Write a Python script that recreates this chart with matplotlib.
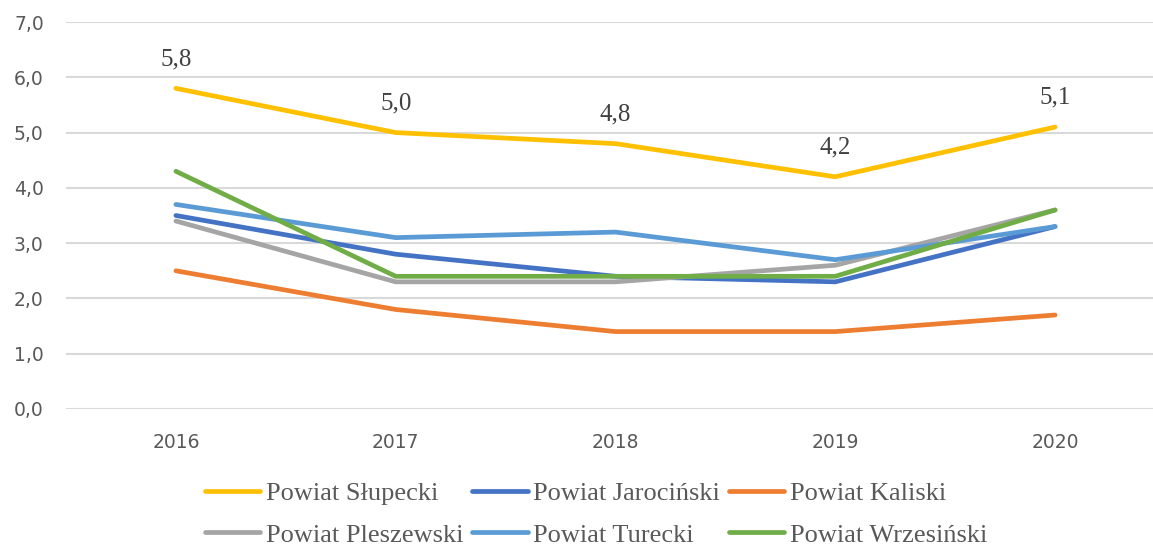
import matplotlib.pyplot as plt
from matplotlib.ticker import FuncFormatter

# dane
years = ['2016', '2017', '2018', '2019', '2020']
slupecki = [5.8, 5.0, 4.8, 4.2, 5.1]
jarocinski = [3.5, 2.8, 2.4, 2.3, 3.3]
kaliski = [2.5, 1.8, 1.4, 1.4, 1.7]
pleszewski = [3.4, 2.3, 2.3, 2.6, 3.6]
turecki = [3.7, 3.1, 3.2, 2.7, 3.3]
wrzesinski = [4.3, 2.4, 2.4, 2.4, 3.6]

series = [
    ('Powiat Słupecki', slupecki, '#FFC000'),
    ('Powiat Jarociński', jarocinski, '#4472C4'),
    ('Powiat Kaliski', kaliski, '#ED7D31'),
    ('Powiat Pleszewski', pleszewski, '#A5A5A5'),
    ('Powiat Turecki', turecki, '#5B9BD5'),
    ('Powiat Wrzesiński', wrzesinski, '#70AD47'),
]

fig = plt.figure(figsize=(11.53, 5.47), dpi=100)
ax = fig.add_axes([66 / 1153, 138 / 547, 1099 / 1153, 387 / 547])

x = list(range(len(years)))
lines = []
for label, vals, color in series:
    ln, = ax.plot(x, vals, color=color, linewidth=3.4, label=label,
                  solid_capstyle='round', solid_joinstyle='round')
    lines.append(ln)

# etykiety danych dla Słupeckiego
for xi, v in zip(x, slupecki):
    ax.annotate(f'{v:.1f}'.replace('.', ','), (xi, v), xytext=(0, 21),
                textcoords='offset points', ha='center', va='center',
                fontsize=18, family='Liberation Serif', color='#404040')

ax.set_xlim(-0.5, len(years) - 0.5)
ax.set_ylim(0, 7)
ax.set_yticks(range(0, 8))
ax.yaxis.set_major_formatter(FuncFormatter(lambda v, p: f'{v:.1f}'.replace('.', ',')))
ax.set_xticks(x)
ax.set_xticklabels(years)
ax.tick_params(axis='both', length=0, labelsize=13.5, colors='#595959')
ax.tick_params(axis='x', pad=17)
ax.tick_params(axis='y', pad=16)
ax.grid(axis='y', color='#D9D9D9', linewidth=1.5)
ax.set_axisbelow(True)
for s in ax.spines.values():
    s.set_visible(False)

# kolejnosc wierszami (legenda wypelnia kolumnami)
order = [0, 3, 1, 4, 2, 5]
leg = fig.legend([lines[i] for i in order], [series[i][0] for i in order],
                 loc='center', bbox_to_anchor=(596 / 1153, 33 / 547), ncol=3,
                 frameon=False, handlelength=2.1, handletextpad=0.2,
                 columnspacing=0.35, labelspacing=0.7,
                 prop={'family': 'Liberation Serif', 'size': 19})
for t in leg.get_texts():
    t.set_color('#595959')

fig.savefig('out.png', dpi=100)
